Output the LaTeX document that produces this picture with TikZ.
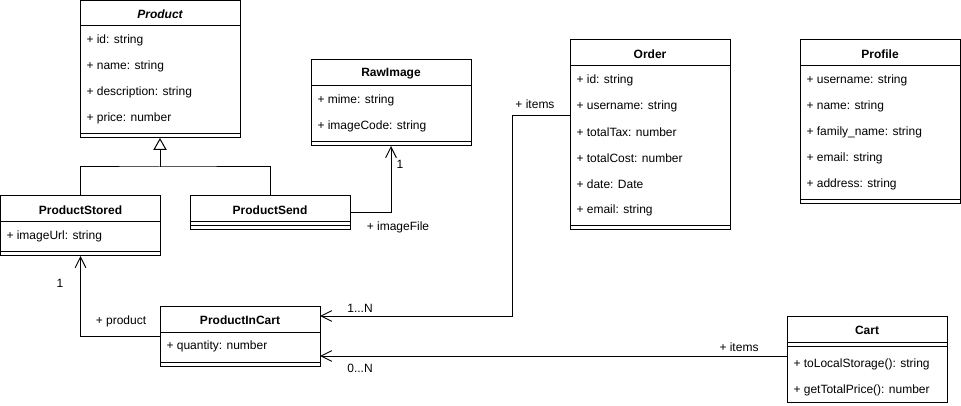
\documentclass[tikz,border=0pt]{standalone}
\usepackage{fontspec}
\setmainfont{Liberation Sans}
\usetikzlibrary{arrows.meta}
\begin{document}
\begin{tikzpicture}[x=0.75pt,y=-0.75pt,
  font=\fontsize{9}{11}\selectfont, line width=0.75pt,
  box/.style={draw, minimum width=120pt, anchor=north west, inner sep=0pt, outer sep=0pt},
  fld/.style={anchor=west, inner sep=0pt, yshift=-1pt},
  ttl/.style={font=\fontsize{9}{11}\selectfont\bfseries, inner sep=0pt, yshift=-0.75pt},
  lbl/.style={inner sep=0pt, yshift=-0.75pt},
  assoc/.style={draw, -{Straight Barb[length=8pt,width=8pt]}},
  gen/.style={draw, -{Triangle[open,length=9pt,width=10pt]}}
]
\useasboundingbox (0,0) rectangle (961,406);

% Product
\node[box, minimum height=103.125pt] (product) at (80,0.5) {};
\draw (80,26) -- (240,26);
\draw (80,134) -- (240,134);
\node[ttl, font=\fontsize{9}{11}\selectfont\bfseries\itshape] (productT) at (160,13) {Product};
\node[fld] (p1) at (86,39) {+ id: string};
\node[fld] (p2) at (86,65) {+ name: string};
\node[fld] (p3) at (86,91) {+ description: string};
\node[fld] (p4) at (86,117) {+ price: number};

% RawImage
\node[box, minimum height=64.5pt] (raw) at (311,60) {};
\draw (311,86) -- (471,86);
\draw (311,142) -- (471,142);
\node[ttl] (rawT) at (391,73) {RawImage};
\node[fld] (r1) at (317,99) {+ mime: string};
\node[fld] (r2) at (317,125) {+ imageCode: string};

% ProductStored
\node[box, minimum height=45pt] (stored) at (0.5,196) {};
\draw (0.5,222) -- (160.5,222);
\draw (0.5,252) -- (160.5,252);
\node[ttl] (storedT) at (80.5,209) {ProductStored};
\node[fld] (s1) at (6,235) {+ imageUrl: string};

% ProductSend
\node[box, minimum height=25.5pt] (send) at (190,196) {};
\draw (190,222) -- (350,222);
\draw (190,226) -- (350,226);
\node[ttl] (sendT) at (270,209) {ProductSend};

% ProductInCart
\node[box, minimum height=45pt] (pic) at (160,306) {};
\draw (160,332) -- (320,332);
\draw (160,362) -- (320,362);
\node[ttl] (picT) at (240,319) {ProductInCart};
\node[fld] (c1f) at (166,345) {+ quantity: number};

% Order
\node[box, minimum height=142.5pt] (order) at (570,40) {};
\draw (570,66) -- (730,66);
\draw (570,226) -- (730,226);
\node[ttl] (orderT) at (650,53) {Order};
\node[fld] (o1) at (576,79) {+ id: string};
\node[fld] (o2) at (576,105) {+ username: string};
\node[fld] (o3) at (576,131) {+ totalTax: number};
\node[fld] (o4) at (576,157) {+ totalCost: number};
\node[fld] (o5) at (576,183) {+ date: Date};
\node[fld] (o6) at (576,209) {+ email: string};

% Profile
\node[box, minimum height=123pt] (profile) at (800,40) {};
\draw (800,66) -- (960,66);
\draw (800,200) -- (960,200);
\node[ttl] (profileT) at (880,53) {Profile};
\node[fld] (f1) at (806,79) {+ username: string};
\node[fld] (f2) at (806,105) {+ name: string};
\node[fld] (f3) at (806,131) {+ family\_name: string};
\node[fld] (f4) at (806,157) {+ email: string};
\node[fld] (f5) at (806,183) {+ address: string};

% Cart
\node[box, minimum height=64.5pt] (cart) at (787,316) {};
\draw (787,342) -- (947,342);
\draw (787,346) -- (947,346);
\node[ttl] (cartT) at (867,329) {Cart};
\node[fld] (m1) at (793,363) {+ toLocalStorage(): string};
\node[fld] (m2) at (793,389) {+ getTotalPrice(): number};

% Generalization
\coordinate (g) at (160,167);
\draw (stored.north) |- (g) -| (send.north);
\draw[gen] (g) -- (product.south);

% ProductSend -> RawImage
\draw[assoc] (send.east) -| (raw.south);
\node[lbl] (l1) at (400,163) {1};
\node[lbl] (l2) at (398,226) {+ imageFile};

% Order -> ProductInCart
\coordinate (b1) at (512,116);
\coordinate (b2) at (512,316);
\draw[assoc] (order.west |- b1) -- (b1) -- (b2) -- (pic.east |- b2);
\node[lbl] (l3) at (535,103) {+ items};
\node[lbl] (l4) at (360,307) {1...N};

% Cart -> ProductInCart
\coordinate (c1) at (600,356);
\draw[assoc] (cart.west |- c1) -- (pic.east |- c1);
\node[lbl] (l5) at (739,346) {+ items};
\node[lbl] (l6) at (360,367) {0...N};

% ProductInCart -> ProductStored
\draw[assoc] (pic.west) -| (stored.south);
\node[lbl] (l7) at (60,282) {1};
\node[lbl] (l8) at (121,320) {+ product};
\end{tikzpicture}
\end{document}
